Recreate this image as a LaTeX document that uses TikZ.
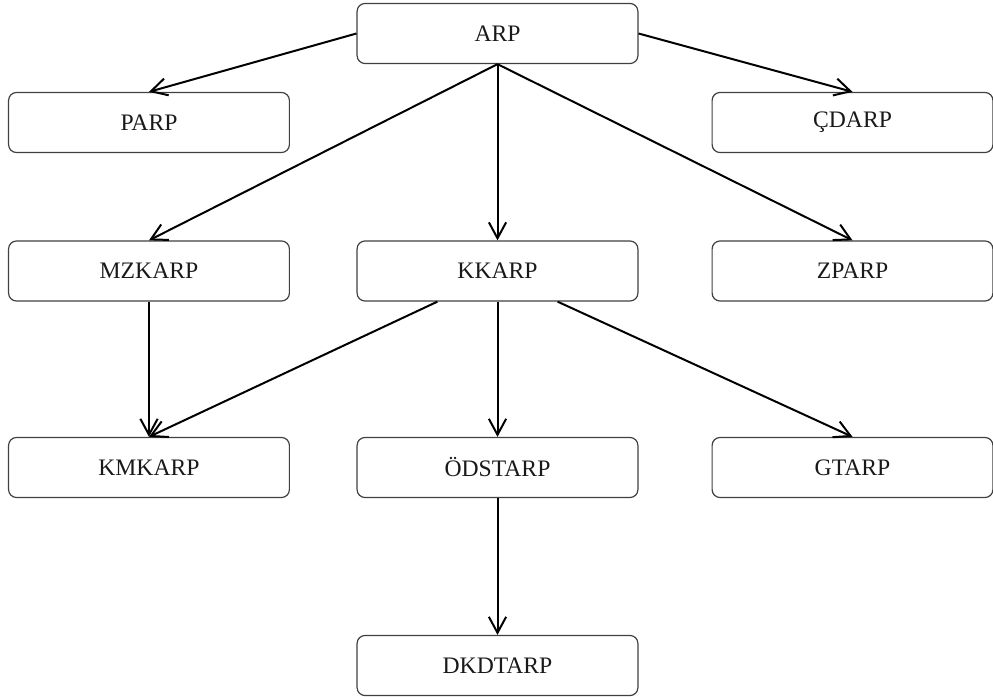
\documentclass[tikz,border=0pt]{standalone}
\usepackage{fontspec}
\setmainfont{Liberation Serif}
\usepackage{tikz}
\usetikzlibrary{arrows.meta, positioning}

\begin{document}
\begin{tikzpicture}[
  unit/.style={rectangle, draw=black!75, line width=0.9pt, rounded corners=6pt, minimum width=7.43cm, minimum height=1.59cm, font=\fontsize{17.8}{20}\selectfont, text=black!90, inner sep=0pt},
  link/.style={-{Straight Barb[length=12pt,width=13pt]}, line width=1.5pt, black},
]
\useasboundingbox (0,0) rectangle (26.273,-18.441);
\node[unit] (arp)     at (13.163,-0.886)  {ARP};
\node[unit] (parp)    at (3.942,-3.241)   {PARP};
\node[unit] (cdarp)   at (22.556,-3.241)  {ÇDARP};
\node[unit] (mzkarp)  at (3.942,-7.170)   {MZKARP};
\node[unit] (kkarp)   at (13.163,-7.170)  {KKARP};
\node[unit] (zparp)   at (22.556,-7.170)  {ZPARP};
\node[unit] (kmkarp)  at (3.942,-12.369)  {KMKARP};
\node[unit] (odstarp) at (13.163,-12.369) {ÖDSTARP};
\node[unit] (gtarp)   at (22.556,-12.369) {GTARP};
\node[unit] (dkdtarp) at (13.163,-17.608) {DKDTARP};

\draw[link] (arp.west) -- (parp.north);
\draw[link] (arp.east) -- (cdarp.north);
\draw[link] (arp.south) -- (mzkarp.north);
\draw[link] (arp.south) -- (kkarp.north);
\draw[link] (arp.south) -- (zparp.north);
\draw[link] (mzkarp.south) -- (kmkarp.north);
\draw[link] ([xshift=-1.59cm]kkarp.south) -- (kmkarp.north);
\draw[link] (kkarp.south) -- (odstarp.north);
\draw[link] ([xshift=1.59cm]kkarp.south) -- (gtarp.north);
\draw[link] (odstarp.south) -- (dkdtarp.north);
\end{tikzpicture}
\end{document}
